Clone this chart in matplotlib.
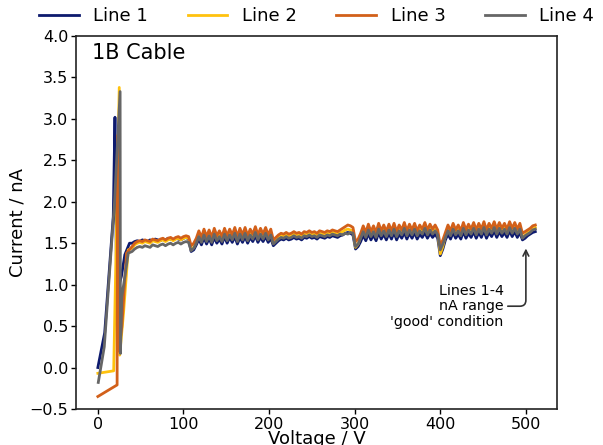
import matplotlib
matplotlib.use("Agg")
import matplotlib.pyplot as plt

# ---- data ----
series_names = ["Line 1", "Line 2", "Line 3", "Line 4"]
series_colors = ["#0d1a6e", "#ffc20e", "#d2601a", "#666666"]

# early (spike) region, per line
early_v1 = [0, 8, 18, 20, 22, 27.5, 31.5, 37]
early_i1 = [0.0, 0.42, 1.82, 3.02, 0.9, 1.10, 1.36, 1.50]
early_v2 = [0, 18.5, 25, 25.5, 30, 35.5]
early_i2 = [-0.07, -0.04, 3.38, 0.15, 0.66, 1.42]
early_v3 = [0, 22.5, 23, 24.5, 28, 33.5]
early_i3 = [-0.35, -0.21, 2.8, 0.2, 0.49, 1.38]
early_v4 = [0.5, 7.5, 19.5, 26, 26.4, 28, 35.5]
early_i4 = [-0.18, 0.25, 2.0, 3.33, 0.17, 0.85, 1.38]

# plateau region: common voltage grid 40..511 step 3
plateau_v = list(range(40, 512, 3))

plateau_i1 = [
    1.50, 1.52, 1.53, 1.52, 1.54, 1.53, 1.52, 1.54, 1.53, 1.55, 1.54, 1.53, 1.55, 1.54, 1.56, 1.55, 1.54, 1.56, 1.55, 1.54, 1.56, 1.57, 1.55,
    1.40, 1.42, 1.48, 1.55, 1.48, 1.57, 1.49, 1.56, 1.48, 1.57, 1.50, 1.55, 1.49, 1.58, 1.50, 1.57, 1.51, 1.58, 1.49, 1.57, 1.51, 1.58, 1.50, 1.57, 1.52, 1.59, 1.51, 1.57, 1.52, 1.58, 1.51, 1.56,
    1.47, 1.50, 1.53, 1.55, 1.54, 1.56, 1.54, 1.55, 1.57, 1.55, 1.56, 1.54, 1.57, 1.56, 1.58, 1.56, 1.57, 1.55, 1.58, 1.57, 1.56, 1.58, 1.57, 1.59, 1.58, 1.57, 1.59, 1.60, 1.62, 1.63, 1.62, 1.60,
    1.43, 1.46, 1.52, 1.60, 1.53, 1.62, 1.54, 1.60, 1.53, 1.63, 1.55, 1.61, 1.54, 1.62, 1.55, 1.63, 1.54, 1.61, 1.56, 1.63, 1.55, 1.62, 1.56, 1.63, 1.55, 1.61, 1.57, 1.63, 1.56, 1.62, 1.57, 1.61, 1.56,
    1.35, 1.43, 1.54, 1.61, 1.55, 1.63, 1.56, 1.61, 1.55, 1.64, 1.56, 1.62, 1.57, 1.64, 1.56, 1.63, 1.57, 1.65, 1.56, 1.63, 1.58, 1.65, 1.57, 1.64, 1.58, 1.63, 1.57, 1.65, 1.58, 1.64, 1.57, 1.63, 1.54, 1.56, 1.59, 1.61, 1.63, 1.64,
]
plateau_i2 = [
    1.44, 1.48, 1.50, 1.51, 1.50, 1.52, 1.51, 1.50, 1.53, 1.52, 1.51, 1.53, 1.54, 1.52, 1.54, 1.55, 1.53, 1.55, 1.56, 1.54, 1.56, 1.57, 1.56,
    1.42, 1.45, 1.52, 1.60, 1.53, 1.62, 1.54, 1.61, 1.53, 1.63, 1.55, 1.60, 1.54, 1.63, 1.55, 1.62, 1.56, 1.64, 1.54, 1.63, 1.56, 1.64, 1.55, 1.62, 1.57, 1.65, 1.56, 1.63, 1.57, 1.64, 1.56, 1.62,
    1.50, 1.54, 1.57, 1.59, 1.58, 1.60, 1.58, 1.59, 1.61, 1.59, 1.60, 1.58, 1.61, 1.60, 1.62, 1.60, 1.61, 1.59, 1.62, 1.61, 1.60, 1.62, 1.61, 1.63, 1.62, 1.61, 1.63, 1.64, 1.66, 1.67, 1.66, 1.65,
    1.45, 1.49, 1.58, 1.66, 1.59, 1.68, 1.60, 1.66, 1.59, 1.69, 1.61, 1.67, 1.60, 1.68, 1.61, 1.69, 1.60, 1.67, 1.62, 1.70, 1.61, 1.68, 1.62, 1.69, 1.61, 1.67, 1.63, 1.70, 1.62, 1.68, 1.63, 1.67, 1.62,
    1.37, 1.46, 1.59, 1.67, 1.61, 1.69, 1.62, 1.67, 1.61, 1.70, 1.62, 1.68, 1.63, 1.70, 1.62, 1.69, 1.63, 1.71, 1.62, 1.69, 1.64, 1.71, 1.63, 1.70, 1.64, 1.69, 1.63, 1.71, 1.64, 1.70, 1.63, 1.69, 1.57, 1.60, 1.63, 1.65, 1.68, 1.69,
]
plateau_i3 = [
    1.46, 1.50, 1.52, 1.53, 1.52, 1.54, 1.53, 1.52, 1.55, 1.54, 1.53, 1.55, 1.56, 1.54, 1.56, 1.57, 1.55, 1.57, 1.58, 1.56, 1.58, 1.59, 1.58,
    1.47, 1.50, 1.56, 1.65, 1.57, 1.67, 1.58, 1.66, 1.57, 1.68, 1.59, 1.65, 1.58, 1.68, 1.59, 1.67, 1.60, 1.69, 1.58, 1.68, 1.60, 1.69, 1.59, 1.67, 1.61, 1.70, 1.60, 1.68, 1.61, 1.69, 1.60, 1.67,
    1.54, 1.57, 1.60, 1.62, 1.61, 1.63, 1.61, 1.62, 1.64, 1.62, 1.63, 1.61, 1.64, 1.63, 1.65, 1.63, 1.64, 1.62, 1.65, 1.64, 1.63, 1.65, 1.64, 1.66, 1.65, 1.64, 1.66, 1.68, 1.70, 1.72, 1.71, 1.69,
    1.52, 1.55, 1.62, 1.71, 1.63, 1.73, 1.64, 1.71, 1.63, 1.74, 1.65, 1.72, 1.64, 1.73, 1.65, 1.74, 1.64, 1.72, 1.66, 1.75, 1.65, 1.73, 1.66, 1.74, 1.65, 1.72, 1.67, 1.75, 1.66, 1.73, 1.67, 1.72, 1.66,
    1.47, 1.54, 1.63, 1.72, 1.65, 1.74, 1.66, 1.72, 1.65, 1.75, 1.66, 1.73, 1.67, 1.75, 1.66, 1.74, 1.67, 1.76, 1.66, 1.74, 1.68, 1.76, 1.67, 1.75, 1.68, 1.74, 1.67, 1.76, 1.68, 1.75, 1.67, 1.74, 1.62, 1.64, 1.66, 1.68, 1.71, 1.72,
]
plateau_i4 = [
    1.40, 1.43, 1.45, 1.46, 1.45, 1.47, 1.46, 1.45, 1.48, 1.47, 1.46, 1.48, 1.49, 1.47, 1.49, 1.50, 1.48, 1.50, 1.51, 1.49, 1.51, 1.52, 1.51,
    1.41, 1.44, 1.50, 1.58, 1.51, 1.60, 1.52, 1.59, 1.51, 1.61, 1.53, 1.58, 1.52, 1.61, 1.53, 1.60, 1.54, 1.62, 1.52, 1.61, 1.54, 1.62, 1.53, 1.60, 1.55, 1.63, 1.54, 1.61, 1.55, 1.62, 1.54, 1.60,
    1.49, 1.52, 1.55, 1.57, 1.56, 1.58, 1.56, 1.57, 1.59, 1.57, 1.58, 1.56, 1.59, 1.58, 1.60, 1.58, 1.59, 1.57, 1.60, 1.59, 1.58, 1.60, 1.59, 1.61, 1.60, 1.59, 1.61, 1.60, 1.62, 1.61, 1.63, 1.62,
    1.46, 1.49, 1.56, 1.64, 1.57, 1.66, 1.58, 1.64, 1.57, 1.67, 1.59, 1.65, 1.58, 1.66, 1.59, 1.67, 1.58, 1.65, 1.60, 1.68, 1.59, 1.66, 1.60, 1.67, 1.59, 1.65, 1.61, 1.68, 1.60, 1.66, 1.61, 1.65, 1.60,
    1.42, 1.49, 1.57, 1.65, 1.59, 1.67, 1.60, 1.65, 1.59, 1.68, 1.60, 1.66, 1.61, 1.68, 1.60, 1.67, 1.61, 1.69, 1.60, 1.67, 1.62, 1.69, 1.61, 1.68, 1.62, 1.67, 1.61, 1.69, 1.62, 1.68, 1.61, 1.67, 1.56, 1.59, 1.61, 1.63, 1.66, 1.67,
]

x_ticks = [0, 100, 200, 300, 400, 500]
y_ticks = [-0.5, 0.0, 0.5, 1.0, 1.5, 2.0, 2.5, 3.0, 3.5, 4.0]

annotation_text = "Lines 1-4\nnA range\n'good' condition"
panel_title = "1B Cable"

# ---- figure ----
plt.rcParams['font.family'] = ['DejaVu Sans']
fig = plt.figure(figsize=(6.03, 4.45), dpi=100)
ax_left, ax_bottom, ax_w, ax_h = 0.126, 0.081, 0.798, 0.838
ax = fig.add_axes([ax_left, ax_bottom, ax_w, ax_h])

early_v = [early_v1, early_v2, early_v3, early_v4]
early_i = [early_i1, early_i2, early_i3, early_i4]
plat_i = [plateau_i1, plateau_i2, plateau_i3, plateau_i4]

for name, col, ev, ei, pi in zip(series_names, series_colors, early_v, early_i, plat_i):
    n = min(len(plateau_v), len(pi))
    v = list(ev) + plateau_v[:n]
    i = list(ei) + pi[:n]
    ax.plot(v, i, color=col, lw=2.0, label=name)

ax.set_ylim(-0.5, 4.0)
ax.set_xticks(x_ticks)
ax.set_yticks(y_ticks)
ax.tick_params(labelsize=11.5, width=1.0, length=3.5, pad=2)
for s in ax.spines.values():
    s.set_linewidth(1.2)
    s.set_color('#222222')

ax.set_xlabel("Voltage / V", fontsize=13, labelpad=-1)
ax.set_ylabel("Current / nA", fontsize=13, labelpad=2)

ax.text(0.033, 0.982, panel_title, transform=ax.transAxes, fontsize=15,
        ha='left', va='top')

ax.annotate(annotation_text, xy=(500, 1.47), xytext=(474, 0.74),
            ha='right', va='center', multialignment='right', fontsize=10.3,
            linespacing=1.12,
            arrowprops=dict(arrowstyle='->', color='#333333', lw=1.2,
                            relpos=(1.0, 0.5), shrinkA=1,
                            connectionstyle='angle,angleA=0,angleB=90,rad=6'))

fig.legend(loc='upper center', bbox_to_anchor=(ax_left + ax_w / 2, 1.02), ncol=4,
           frameon=False, fontsize=13, handlelength=2.2, columnspacing=2.2,
           handletextpad=0.8)

fig.savefig("out.png", dpi=100)
